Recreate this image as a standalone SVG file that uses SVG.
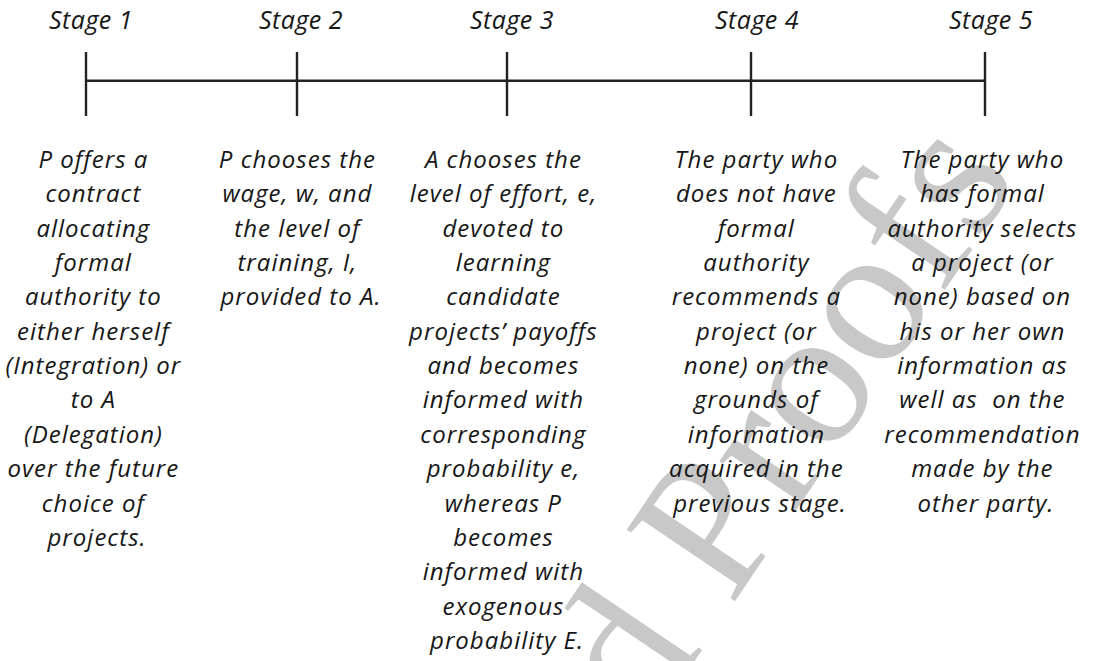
<svg xmlns="http://www.w3.org/2000/svg" width="1095" height="661" viewBox="0 0 1095 661">
<style>
  .wm { font-family: "Liberation Serif", "Times New Roman", serif; font-size: 198px; fill: #c8c8c8; }
  .stage { font-family: "Open Sans", "Noto Sans", sans-serif; font-style: italic; font-size: 25px; fill: #161616; text-anchor: middle; letter-spacing: 0.5px; }
  .body { font-family: "Open Sans", "Noto Sans", sans-serif; font-style: italic; font-size: 24px; fill: #161616; text-anchor: middle; letter-spacing: 1px; }
  .axis { stroke: #222; stroke-width: 2.4; fill: none; }
</style>
<rect x="0" y="0" width="1095" height="661" fill="#ffffff"/>
<g id="watermark">
  <text class="wm" transform="translate(648,730) rotate(-56)">d Proofs</text>
</g>
<g id="connectors">
  <line class="axis" x1="86" y1="80.7" x2="985" y2="80.7"/>
  <line class="axis" x1="86" y1="52" x2="86" y2="116"/>
  <line class="axis" x1="297" y1="52" x2="297" y2="116"/>
  <line class="axis" x1="507" y1="52" x2="507" y2="116"/>
  <line class="axis" x1="751" y1="52" x2="751" y2="116"/>
  <line class="axis" x1="985" y1="52" x2="985" y2="116"/>
</g>
<g id="stage1">
  <text class="stage" x="91" y="28.5">Stage 1</text>
  <text class="body" x="97" y="168">
    <tspan x="97" dy="0">P offers a</tspan>
    <tspan x="97" dy="34.35">contract</tspan>
    <tspan x="97" dy="34.35">allocating</tspan>
    <tspan x="97" dy="34.35">formal</tspan>
    <tspan x="97" dy="34.35">authority to</tspan>
    <tspan x="97" dy="34.35">either herself</tspan>
    <tspan x="97" dy="34.35">(Integration) or</tspan>
    <tspan x="97" dy="34.35">to A</tspan>
    <tspan x="97" dy="34.35">(Delegation)</tspan>
    <tspan x="97" dy="34.35">over the future</tspan>
    <tspan x="97" dy="34.35">choice of</tspan>
    <tspan x="97" dy="34.35">projects.</tspan>
  </text>
</g>
<g id="stage2">
  <text class="stage" x="301" y="28.5">Stage 2</text>
  <text class="body" x="301" y="168">
    <tspan x="301" dy="0">P chooses the</tspan>
    <tspan x="301" dy="34.35">wage, w, and</tspan>
    <tspan x="301" dy="34.35">the level of</tspan>
    <tspan x="301" dy="34.35">training, I,</tspan>
    <tspan x="301" dy="34.35">provided to A.</tspan>
  </text>
</g>
<g id="stage3">
  <text class="stage" x="512" y="28.5">Stage 3</text>
  <text class="body" x="507" y="168">
    <tspan x="507" dy="0">A chooses the</tspan>
    <tspan x="507" dy="34.35">level of effort, e,</tspan>
    <tspan x="507" dy="34.35">devoted to</tspan>
    <tspan x="507" dy="34.35">learning</tspan>
    <tspan x="507" dy="34.35">candidate</tspan>
    <tspan x="507" dy="34.35">projects’ payoffs</tspan>
    <tspan x="507" dy="34.35">and becomes</tspan>
    <tspan x="507" dy="34.35">informed with</tspan>
    <tspan x="507" dy="34.35">corresponding</tspan>
    <tspan x="507" dy="34.35">probability e,</tspan>
    <tspan x="507" dy="34.35">whereas P</tspan>
    <tspan x="507" dy="34.35">becomes</tspan>
    <tspan x="507" dy="34.35">informed with</tspan>
    <tspan x="507" dy="34.35">exogenous</tspan>
    <tspan x="507" dy="34.35">probability E.</tspan>
  </text>
</g>
<g id="stage4">
  <text class="stage" x="757" y="28.5">Stage 4</text>
  <text class="body" x="760" y="168">
    <tspan x="760" dy="0">The party who</tspan>
    <tspan x="760" dy="34.35">does not have</tspan>
    <tspan x="760" dy="34.35">formal</tspan>
    <tspan x="760" dy="34.35">authority</tspan>
    <tspan x="760" dy="34.35">recommends a</tspan>
    <tspan x="760" dy="34.35">project (or</tspan>
    <tspan x="760" dy="34.35">none) on the</tspan>
    <tspan x="760" dy="34.35">grounds of</tspan>
    <tspan x="760" dy="34.35">information</tspan>
    <tspan x="760" dy="34.35">acquired in the</tspan>
    <tspan x="760" dy="34.35">previous stage.</tspan>
  </text>
</g>
<g id="stage5">
  <text class="stage" x="991" y="28.5">Stage 5</text>
  <text class="body" x="986" y="168">
    <tspan x="986" dy="0">The party who</tspan>
    <tspan x="986" dy="34.35">has formal</tspan>
    <tspan x="986" dy="34.35">authority selects</tspan>
    <tspan x="986" dy="34.35">a project (or</tspan>
    <tspan x="986" dy="34.35">none) based on</tspan>
    <tspan x="986" dy="34.35">his or her own</tspan>
    <tspan x="986" dy="34.35">information as</tspan>
    <tspan x="986" dy="34.35">well as&#160; on the</tspan>
    <tspan x="986" dy="34.35">recommendation</tspan>
    <tspan x="986" dy="34.35">made by the</tspan>
    <tspan x="986" dy="34.35">other party.</tspan>
  </text>
</g>
</svg>
